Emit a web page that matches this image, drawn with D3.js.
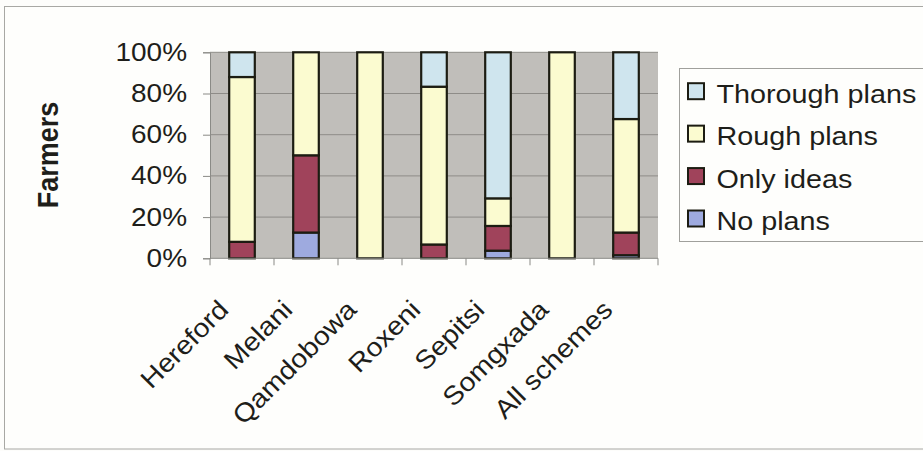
<!DOCTYPE html>
<html>
<head>
<meta charset="utf-8">
<script src="https://cdn.jsdelivr.net/npm/d3@7"></script>
<style>
  html, body { margin: 0; padding: 0; background: #fdfdfb; }
  svg { display: block; }
  text { font-family: "Liberation Sans", Arial, Helvetica, sans-serif; fill: #1e1e1a; }
</style>
</head>
<body>
<svg id="chart" width="923" height="451"></svg>
<script>
// ---- Data (percent of farmers) ----
const categories = ["Hereford", "Melani", "Qamdobowa", "Roxeni", "Sepitsi", "Somgxada", "All schemes"];
const noPlans       = [0,   12.5, 0,   0,    3.7,  0,   1.5];
const onlyIdeas     = [8,   37.5, 0,   6.7,  12,   0,   11];
const roughPlans    = [80,  50,   100, 76.6, 13.4, 100, 55.1];
const thoroughPlans = [12,  0,    0,   16.7, 70.9, 0,   32.4];
const seriesNames   = ["No plans", "Only ideas", "Rough plans", "Thorough plans"];
const seriesColors  = ["#9eaadf", "#a0435b", "#fbfbd0", "#cfe5ee"];
const yTickValues   = [0, 20, 40, 60, 80, 100];
const yAxisTitle    = "Farmers";

// ---- Layout ----
const svg = d3.select("#chart");
const SX = 1.12; // horizontal stretch of the original scan's text
const plot = { left: 210, right: 658, top: 52.3, bottom: 258.3 };

// outer chart border
svg.append("rect").attr("x", 4.5).attr("y", 6.5).attr("width", 1000).attr("height", 442.5)
  .attr("fill", "#fefefc").attr("stroke", "#a8a8a4").attr("stroke-width", 1);

const x = d3.scaleBand().domain(categories).range([plot.left, plot.right])
  .paddingInner(0.6).paddingOuter(0.3);
const y = d3.scaleLinear().domain([0, 100]).range([plot.bottom, plot.top]);

// plot area
svg.append("rect").attr("x", plot.left).attr("y", plot.top)
  .attr("width", plot.right - plot.left).attr("height", plot.bottom - plot.top)
  .attr("fill", "#c0beba");

// gridlines
svg.append("g").selectAll("line").data(yTickValues.filter(v => v > 0)).join("line")
  .attr("x1", plot.left).attr("x2", plot.right)
  .attr("y1", d => y(d)).attr("y2", d => y(d))
  .attr("stroke", "#8e8c88").attr("stroke-width", 1);

// stacked bars
const rows = categories.map((c, i) => ({
  cat: c,
  "No plans": noPlans[i], "Only ideas": onlyIdeas[i],
  "Rough plans": roughPlans[i], "Thorough plans": thoroughPlans[i]
}));
const stack = d3.stack().keys(seriesNames)(rows);
const color = d3.scaleOrdinal().domain(seriesNames).range(seriesColors);

svg.append("g").selectAll("g").data(stack).join("g")
  .attr("fill", d => color(d.key))
  .selectAll("rect").data(d => d.filter(s => s[1] - s[0] > 0)).join("rect")
  .attr("x", d => x(d.data.cat))
  .attr("width", x.bandwidth())
  .attr("y", d => y(d[1]))
  .attr("height", d => y(d[0]) - y(d[1]))
  .attr("stroke", "#1c1c12").attr("stroke-width", 2.2);

// y axis
const yAxis = svg.append("g").attr("transform", `translate(${plot.left},0)`)
  .call(d3.axisLeft(y).tickValues(yTickValues).tickFormat(d => d + "%")
    .tickSize(7).tickPadding(13.5));
yAxis.select(".domain").attr("stroke", "#8a8a86");
yAxis.selectAll(".tick line").attr("stroke", "#8a8a86");
yAxis.selectAll(".tick text")
  .attr("font-size", 25).attr("fill", "#1e1e1a")
  .attr("transform", `scale(${SX},1)`);

// x axis (labels via axis, boundary ticks from the band scale)
const xAxis = svg.append("g").attr("transform", `translate(0,${plot.bottom})`)
  .call(d3.axisBottom(x).tickSize(0).tickPadding(0));
xAxis.select(".domain").remove();
xAxis.selectAll(".tick text")
  .attr("font-size", 26).attr("fill", "#1e1e1a")
  .attr("text-anchor", "end").attr("x", 0).attr("y", 0).attr("dy", 0)
  .attr("transform", `translate(-12,53) rotate(-45) scale(1.1,1)`);

const x0 = plot.left;
const boundaries = categories.map((c, i) => x0 + i * x.step());
boundaries.push(plot.right);
svg.append("line").attr("x1", plot.left).attr("x2", plot.right)
  .attr("y1", plot.bottom).attr("y2", plot.bottom).attr("stroke", "#8a8a86");
svg.append("g").selectAll("line").data(boundaries).join("line")
  .attr("x1", d => d).attr("x2", d => d)
  .attr("y1", plot.bottom).attr("y2", plot.bottom + 7)
  .attr("stroke", "#8a8a86");

// y axis title
svg.append("text")
  .attr("transform", `translate(47,155) scale(${SX},1) rotate(-90)`)
  .attr("text-anchor", "middle").attr("dy", "0.35em")
  .attr("font-size", 27).attr("font-weight", "bold")
  .text(yAxisTitle);

// legend
const legend = svg.append("g");
legend.append("rect").attr("x", 679.5).attr("y", 68.5).attr("width", 300).attr("height", 173)
  .attr("fill", "#fefefc").attr("stroke", "#a0a09c");
const legendItems = seriesNames.slice().reverse();
const ly = d3.scalePoint().domain(legendItems).range([102.7, 230]);
const li = legend.selectAll("g.item").data(legendItems).join("g").attr("class", "item");
li.append("rect")
  .attr("x", 688).attr("y", d => ly(d) - 19.5).attr("width", 16).attr("height", 16)
  .attr("fill", d => color(d)).attr("stroke", "#1c1c12").attr("stroke-width", 2);
li.append("text")
  .attr("transform", d => `translate(716.5,${ly(d)}) scale(1.15,1)`)
  .attr("font-size", 25)
  .text(d => d);
</script>
</body>
</html>
